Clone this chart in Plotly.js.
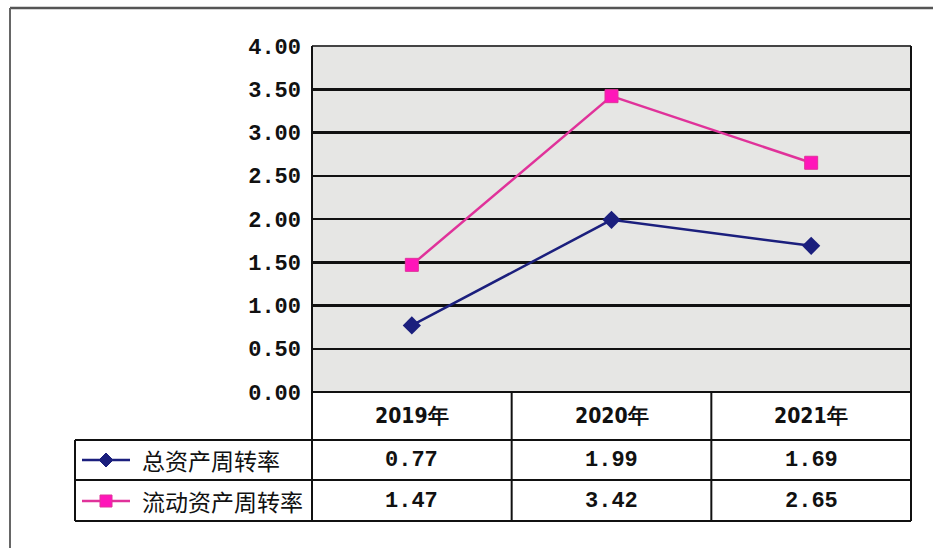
<!DOCTYPE html>
<html><head><meta charset="utf-8">
<script src="https://cdn.plot.ly/plotly-3.0.1.min.js"></script>
<style>html,body{margin:0;padding:0;background:#fff}</style>
</head><body><div id="chart" style="width:933px;height:548px"></div>
<script>
// ---- data ----
const years = ['2019年', '2020年', '2021年'];
const seriesNames = ['总资产周转率', '流动资产周转率'];
const totalAssetTurnover = [0.77, 1.99, 1.69];
const currentAssetTurnover = [1.47, 3.42, 2.65];
const yTickVals = [0, 0.5, 1, 1.5, 2, 2.5, 3, 3.5, 4];
const yTickText = ['0.00', '0.50', '1.00', '1.50', '2.00', '2.50', '3.00', '3.50', '4.00'];

// ---- layout geometry (pixels) ----
const W = 933, H = 548, L = 312, R = 911, T = 46, B = 392;
const px = x => (x - L) / (R - L);
const py = y => (B - y) / (B - T);
const rowY = [416, 460, 501];       // header, series1, series2 centers
const rowEdges = [392, 440, 480, 521];
const tableLeft = 75;

const navy = '#1b1f7d';
const magenta = '#e0329a';
const magentaFill = '#ff16b9';
const numFont = {family: '"Liberation Mono", "DejaVu Sans Mono", monospace', size: 22, color: '#111', weight: 'bold'};
const yearFont = {family: '"Liberation Sans Narrow", "DejaVu Sans Condensed", "Liberation Sans", sans-serif', size: 21, color: '#111', weight: 'bold'};
const cjkFont = {family: '"Noto Sans CJK SC", sans-serif', size: 23, color: '#111'};

const cats = [0, 1, 2];
const seriesVals = [totalAssetTurnover, currentAssetTurnover];

const traces = [
  {x: cats, y: totalAssetTurnover, type: 'scatter', mode: 'lines+markers', name: seriesNames[0],
   line: {color: navy, width: 2.5}, marker: {symbol: 'diamond', size: 14, color: navy}},
  {x: cats, y: currentAssetTurnover, type: 'scatter', mode: 'lines+markers', name: seriesNames[1],
   line: {color: magenta, width: 2.5}, marker: {symbol: 'square', size: 13, color: magentaFill, line: {color: magenta, width: 1}}}
];

const shapes = [];
const ln = (x0, y0, x1, y1, xref, color, width) => shapes.push({type: 'line', xref: xref || 'paper', yref: 'paper', x0, y0, x1, y1, line: {color: color || '#111', width: width || 2}});

// outer frame
ln((10 - L) / (R - L), py(8), (W - L) / (R - L), py(8), 'paper', '#555', 2.5);
ln((10 - L) / (R - L), py(8), (10 - L) / (R - L), py(H), 'paper', '#666', 2);
// plot border
ln(0, 1, 1, 1, 'paper', '#444', 2);
ln(0, 0, 0, 1, 'paper', '#111', 2);
ln(1, 0, 1, 1, 'paper', '#111', 2);
// table horizontals
ln(0, py(rowEdges[0]), 1, py(rowEdges[0]));
for (let i = 1; i < rowEdges.length; i++) ln(px(tableLeft), py(rowEdges[i]), 1, py(rowEdges[i]));
// table verticals
ln(px(tableLeft), py(rowEdges[1]), px(tableLeft), py(rowEdges[3]));
ln(0, py(rowEdges[0]), 0, py(rowEdges[3]));
ln(1, py(rowEdges[0]), 1, py(rowEdges[3]));
[0.5, 1.5].forEach(b => shapes.push({type: 'line', xref: 'x', yref: 'paper', x0: b, x1: b, y0: py(rowEdges[0]), y1: py(rowEdges[3]), line: {color: '#111', width: 2}}));

// legend keys in the table
const keyX0 = 82, keyX1 = 130, keyC = 106;
ln(px(keyX0), py(rowY[1]), px(keyX1), py(rowY[1]), 'paper', navy, 2.5);
ln(px(keyX0), py(rowY[2]), px(keyX1), py(rowY[2]), 'paper', magenta, 2.5);
const d = 7;
shapes.push({type: 'path', xref: 'paper', yref: 'paper',
  path: `M ${px(keyC)} ${py(rowY[1] - d)} L ${px(keyC + d)} ${py(rowY[1])} L ${px(keyC)} ${py(rowY[1] + d)} L ${px(keyC - d)} ${py(rowY[1])} Z`,
  fillcolor: navy, line: {color: navy, width: 1}});
const s = 6;
shapes.push({type: 'rect', xref: 'paper', yref: 'paper',
  x0: px(keyC - s), x1: px(keyC + s), y0: py(rowY[2] + s), y1: py(rowY[2] - s),
  fillcolor: magentaFill, line: {color: magenta, width: 1}});

const annotations = [];
years.forEach((yr, i) => annotations.push({x: cats[i], xref: 'x', y: py(rowY[0]), yref: 'paper', text: yr, showarrow: false, font: yearFont, xanchor: 'center', yanchor: 'middle'}));
seriesVals.forEach((vals, r) => {
  vals.forEach((v, i) => annotations.push({x: cats[i], xref: 'x', y: py(rowY[r + 1]), yref: 'paper', text: v.toFixed(2), showarrow: false, font: numFont, xanchor: 'center', yanchor: 'middle'}));
  annotations.push({x: px(140), xref: 'paper', y: py(rowY[r + 1]), yref: 'paper', text: seriesNames[r], showarrow: false, font: cjkFont, xanchor: 'left', yanchor: 'middle'});
});

const layout = {
  width: W, height: H,
  margin: {l: L, r: W - R, t: T, b: H - B, pad: 0},
  paper_bgcolor: '#ffffff',
  plot_bgcolor: '#e6e6e4',
  showlegend: false,
  xaxis: {range: [-0.5, 2.5], showticklabels: false, showgrid: false, zeroline: false, showline: false, ticks: '', fixedrange: true},
  yaxis: {range: [0, 4], tickvals: yTickVals, ticktext: yTickText, showgrid: true, gridcolor: '#111', gridwidth: 2.5,
          zeroline: false, showline: false, ticks: '', ticklabelstandoff: 10, tickfont: numFont, fixedrange: true},
  shapes, annotations
};

Plotly.newPlot('chart', traces, layout, {staticPlot: true, displayModeBar: false});
</script>
</body></html>
